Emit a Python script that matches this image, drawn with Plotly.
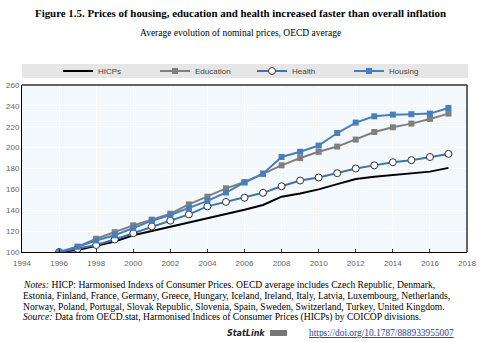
import plotly.graph_objects as go

years = list(range(1996, 2018))
hicp = [100, 102, 106, 110, 116, 120, 124, 128, 132, 136, 140.5, 145, 153, 156, 160, 165, 170, 172, 173.6, 175, 177, 180.6]
education = [100, 105, 112.7, 119, 125.5, 131, 136.7, 145.6, 153, 161, 167, 175, 183, 190, 196, 201, 207.7, 215, 219.5, 223, 227.5, 232.6]
health = [100, 103, 106.7, 112, 118, 124.5, 130, 136, 143.7, 148, 152, 156.7, 163, 168.5, 171.4, 175.5, 180, 183, 186, 188, 191, 194]
housing = [100, 105, 111, 116, 123, 130, 135.4, 142, 149, 157, 166.6, 175, 191, 196, 202, 214, 224, 230, 231.6, 232, 232.6, 238]

x_ticks = list(range(1994, 2019, 2))
y_ticks = list(range(100, 261, 20))

fig = go.Figure()
fig.add_trace(go.Scatter(x=years, y=hicp, name="HICPs", mode="lines",
                         line=dict(color="#000000", width=2)))
fig.add_trace(go.Scatter(x=years, y=education, name="Education", mode="lines+markers",
                         line=dict(color="#7f7f7f", width=2),
                         marker=dict(symbol="square", size=6, color="#7f7f7f")))
fig.add_trace(go.Scatter(x=years, y=health, name="Health", mode="lines+markers",
                         line=dict(color="#3f72ad", width=2),
                         marker=dict(symbol="circle", size=7, color="#ffffff",
                                     line=dict(color="#333333", width=1))))
fig.add_trace(go.Scatter(x=years, y=housing, name="Housing", mode="lines+markers",
                         line=dict(color="#4a7ebb", width=2),
                         marker=dict(symbol="square", size=6, color="#4a7ebb")))

serif = "Liberation Serif"
sans = "Liberation Sans Narrow, Liberation Sans"

TOP, BOTTOM, LEFT, RIGHT = 85, 252, 22, 467


def pyp(pix):
    return (BOTTOM - pix) / (BOTTOM - TOP)


def pxp(pix):
    return (pix - LEFT) / (RIGHT - LEFT)


title = "<b>Figure 1.5. Prices of housing, education and health increased faster than overall inflation</b>"
subtitle = "Average evolution of nominal prices, OECD average"
notes = [
    "<i>Notes:</i> HICP: Harmonised Indexs of Consumer Prices. OECD average includes Czech Republic, Denmark,",
    "Estonia, Finland, France, Germany, Greece, Hungary, Iceland, Ireland, Italy, Latvia, Luxembourg, Netherlands,",
    "Norway, Poland, Portugal, Slovak Republic, Slovenia, Spain, Sweden, Switzerland, Turkey, United Kingdom.",
    "<i>Source:</i> Data from OECD.stat, Harmonised Indices of Consumer Prices (HICPs) by COICOP divisions.",
]
note_y = [284, 295, 306, 317]

ann = [
    dict(text=title, xref="paper", yref="paper", x=pxp(240), y=pyp(13),
         xanchor="center", yanchor="middle", showarrow=False,
         font=dict(size=10.9, family=serif, color="#000")),
    dict(text=subtitle, xref="paper", yref="paper", x=pxp(240), y=pyp(33),
         xanchor="center", yanchor="middle", showarrow=False,
         font=dict(size=9.5, family=serif, color="#000")),
]
for t, yy in zip(notes, note_y):
    ann.append(dict(text=t, xref="paper", yref="paper", x=pxp(21), y=pyp(yy),
                    xanchor="left", yanchor="middle", showarrow=False,
                    font=dict(size=9.6, family=serif, color="#000")))
ann.append(dict(text="<b><i>StatLink</i></b>", xref="paper", yref="paper",
                x=pxp(267), y=pyp(333), xanchor="right", yanchor="middle",
                showarrow=False, font=dict(size=8, family="DejaVu Sans", color="#222")))
ann.append(dict(text="<u>https://doi.org/10.1787/888933955007</u>", xref="paper", yref="paper",
                x=pxp(456), y=pyp(333), xanchor="right", yanchor="middle",
                showarrow=False, font=dict(size=9.4, family=serif, color="#1f3f9f")))

shapes = [
    dict(type="rect", xref="paper", yref="paper", x0=0, x1=pxp(468), y0=pyp(78), y1=pyp(64),
         fillcolor="#e6e6e6", line=dict(width=0), layer="below"),
    dict(type="line", xref="paper", yref="paper", x0=0, x1=1, y0=1, y1=1,
         line=dict(color="#333", width=1.5)),
    dict(type="line", xref="paper", yref="paper", x0=1, x1=1, y0=0, y1=1,
         line=dict(color="#333", width=1.5)),
    dict(type="rect", xref="paper", yref="paper", x0=pxp(270), x1=pxp(287), y0=pyp(336), y1=pyp(330),
         fillcolor="#777", line=dict(width=0)),
]

fig.update_layout(
    width=480, height=342,
    margin=dict(l=LEFT, r=480 - RIGHT, t=TOP, b=342 - BOTTOM, autoexpand=False),
    paper_bgcolor="#ffffff",
    plot_bgcolor="#f2f8fc",
    showlegend=True,
    legend=dict(orientation="h", x=pxp(252), xanchor="center", y=pyp(71), yanchor="middle",
                bgcolor="rgba(0,0,0,0)", font=dict(size=8, family=sans, color="#444"),
                entrywidth=52, itemwidth=30, tracegroupgap=0),
    xaxis=dict(range=[1994, 2018], tickvals=x_ticks, ticks="inside", ticklen=3,
               tickcolor="#333", tickwidth=1, ticklabelstandoff=3, showgrid=True,
               gridcolor="#ffffff", gridwidth=1, showline=True, linecolor="#000", linewidth=1,
               tickfont=dict(size=8, family=sans, color="#666"), zeroline=False),
    yaxis=dict(range=[100, 260], tickvals=y_ticks, ticks="", showgrid=True,
               gridcolor="#ffffff", gridwidth=1, showline=True, linecolor="#000", linewidth=1,
               tickfont=dict(size=8, family=sans, color="#666"), zeroline=False),
    annotations=ann,
    shapes=shapes,
)

fig.write_html("out.html")
